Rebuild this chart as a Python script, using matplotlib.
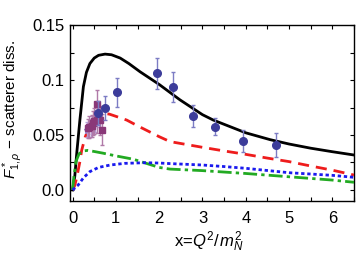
import matplotlib
matplotlib.use("Agg")
import matplotlib.pyplot as plt
from matplotlib.ticker import MultipleLocator, FixedLocator, FixedFormatter

plt.rcParams['font.family'] = ['Liberation Sans', 'DejaVu Sans']
plt.rcParams['mathtext.fontset'] = 'custom'
plt.rcParams['mathtext.it'] = 'Liberation Sans:italic'
plt.rcParams['mathtext.rm'] = 'Liberation Sans'

# model curves
black_x = [0, 0.05, 0.1, 0.17, 0.25, 0.32, 0.4, 0.5, 0.6, 0.75, 0.9, 1.1, 1.3, 1.56,
           2.0, 2.48, 3.0, 3.25, 4.0, 4.56, 5.0, 5.5, 6.0, 6.5]
black_y = [0, 0.012, 0.035, 0.064, 0.094, 0.107, 0.115, 0.120, 0.1225, 0.1236, 0.123,
           0.120, 0.115, 0.1075, 0.096, 0.082, 0.0685, 0.0636, 0.052, 0.0458, 0.0418,
           0.038, 0.0348, 0.0318]

red_x = [0, 0.05, 0.1, 0.17, 0.21, 0.29, 0.4, 0.48, 0.6, 0.71, 0.85, 1.0, 1.25, 1.52,
         2.0, 2.25, 3.0, 3.5, 4.0, 4.5, 5.0, 5.5, 6.0, 6.5]
red_y = [0, 0.004, 0.012, 0.026, 0.036, 0.048, 0.059, 0.065, 0.068, 0.0697, 0.069,
         0.067, 0.0636, 0.058, 0.0485, 0.044, 0.0388, 0.0355, 0.0324, 0.029, 0.0258,
         0.0218, 0.018, 0.0136]

green_x = [0, 0.03, 0.08, 0.15, 0.25, 0.35, 0.5, 0.7, 1.0, 1.4, 2.0, 2.25, 3.0, 3.5,
           4.0, 4.5, 5.0, 5.5, 6.0, 6.5]
green_y = [0, 0.012, 0.026, 0.033, 0.0355, 0.036, 0.035, 0.0335, 0.031, 0.028, 0.0205,
           0.019, 0.0176, 0.0163, 0.015, 0.0135, 0.012, 0.0105, 0.009, 0.007]

blue_x = [0, 0.13, 0.25, 0.4, 0.6, 0.87, 1.2, 1.67, 2.0, 2.25, 3.0, 3.5, 4.0, 4.5,
          5.0, 5.5, 6.0, 6.5]
blue_y = [0, 0.0045, 0.011, 0.0167, 0.0205, 0.0227, 0.0242, 0.0248, 0.0245, 0.024,
          0.0227, 0.0213, 0.0197, 0.0177, 0.0157, 0.0145, 0.0133, 0.0115]

# data points
circ_x = [0.58, 0.75, 1.03, 1.96, 2.33, 2.78, 3.3, 3.93, 4.7]
circ_y = [0.0703, 0.0743, 0.089, 0.106, 0.0934, 0.067, 0.0576, 0.0443, 0.041]
circ_e = [0.011, 0.011, 0.0133, 0.014, 0.0136, 0.010, 0.0077, 0.010, 0.011]

sq_x = [0.36, 0.38, 0.44, 0.48, 0.50, 0.56, 0.57, 0.63, 0.69]
sq_y = [0.056, 0.0575, 0.0585, 0.0606, 0.0627, 0.064, 0.078, 0.0634, 0.055]
sq_e = [0.009, 0.010, 0.010, 0.011, 0.012, 0.012, 0.013, 0.013, 0.014]

star_x = [0.33, 0.42, 0.46, 0.52, 0.6]
star_y = [0.055, 0.0565, 0.059, 0.062, 0.066]
star_e = [0.007, 0.008, 0.008, 0.009, 0.009]

fig = plt.figure(figsize=(3.57, 2.56), dpi=100)
ax = fig.add_axes([0.196, 0.215, 0.7956, 0.687])

ax.plot(black_x, black_y, color='black', lw=2.0, zorder=3)
ax.plot(red_x, red_y, color='#ee1c1c', lw=2.0, ls=(0, (4, 2.5)), zorder=3)
ax.plot(green_x, green_y, color='#22aa22', lw=2.0, ls=(0, (5, 1.5, 1.2, 1.5)), zorder=3)
ax.plot(blue_x, blue_y, color='#1a1aee', lw=2.0, ls=(0, (1.2, 1.0)), zorder=3)

ax.errorbar(star_x, star_y, yerr=star_e, fmt='*', color='#9a8ad0', ms=5,
            ecolor='#b8a0d8', elinewidth=1, capsize=1.5, zorder=4)
ax.errorbar(sq_x, sq_y, yerr=sq_e, fmt='s', color='#8a3878', ms=4.5,
            ecolor='#b07aa8', elinewidth=1, capsize=1.5, zorder=5)
ax.errorbar(circ_x, circ_y, yerr=circ_e, fmt='o', color='#3c3c9a', ms=5.5,
            ecolor='#7c7cc4', elinewidth=1, capsize=1.5, zorder=6)

ax.set_xlim(-0.06, 6.5)
ax.set_ylim(-0.01, 0.15)
ax.xaxis.set_major_locator(MultipleLocator(1))
ax.xaxis.set_minor_locator(MultipleLocator(0.5))
ax.yaxis.set_major_locator(FixedLocator([0, 0.05, 0.1, 0.15]))
ax.yaxis.set_major_formatter(FixedFormatter(['0.0', '0.05', '0.1', '0.15']))
ax.yaxis.set_minor_locator(MultipleLocator(0.025))
ax.tick_params(which='both', direction='in', top=True, right=True, length=3,
               width=0.8, labelsize=12)
ax.tick_params(axis='x', pad=7)
ax.tick_params(axis='y', pad=4)
for s in ax.spines.values():
    s.set_linewidth(1.0)

ax.set_xlabel(r'x=$Q^2/\,m_N^2$', fontsize=12)
ax.xaxis.set_label_coords(0.49, -0.165)
ax.set_ylabel(r'$F^*_{1,\rho}$ $-$ scatterer diss.', fontsize=11)
ax.yaxis.set_label_coords(-0.158, 0.52)

fig.savefig('out.png', dpi=100)
